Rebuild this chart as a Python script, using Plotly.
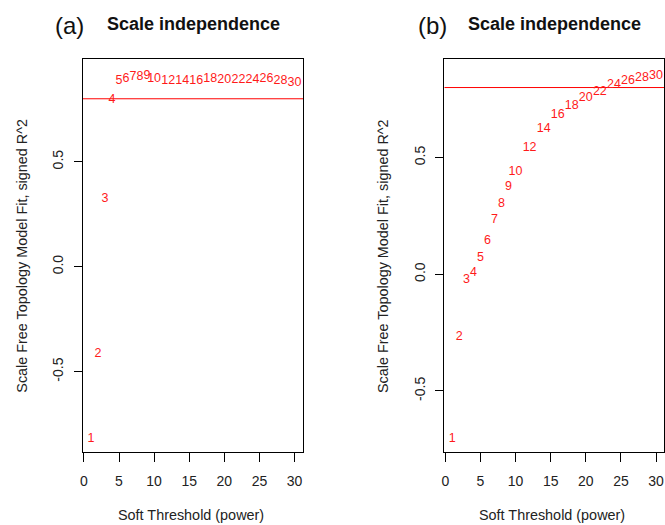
import plotly.graph_objects as go

powers = [1, 2, 3, 4, 5, 6, 7, 8, 9, 10, 12, 14, 16, 18, 20, 22, 24, 26, 28, 30]
fit_a = [-0.820, -0.416, 0.322, 0.797, 0.886, 0.897, 0.902, 0.905, 0.908, 0.894,
         0.886, 0.886, 0.886, 0.897, 0.890, 0.890, 0.890, 0.894, 0.886, 0.875]
fit_b = [-0.706, -0.270, -0.024, 0.004, 0.071, 0.143, 0.233, 0.303, 0.373, 0.437,
         0.543, 0.621, 0.683, 0.721, 0.754, 0.780, 0.811, 0.830, 0.840, 0.851]
cutoff = 0.8
panel_tags = ["(a)", "(b)"]
panel_title = "Scale independence"
x_title = "Soft Threshold (power)"
y_title = "Scale Free Topology Model Fit, signed R^2"
x_ticks = [0, 5, 10, 15, 20, 25, 30]
y_ticks = [-0.5, 0.0, 0.5]

FONT = "Liberation Sans, Arial, sans-serif"
W, H = 665, 525

xr_a = [-0.18, 31.25]
xr_b = [-0.14, 31.13]
yr_a = [-0.884, 0.988]
yr_b = [-0.763, 0.921]

fig = go.Figure()
for xr, fit, xa, ya in [(xr_a, fit_a, "x", "y"), (xr_b, fit_b, "x2", "y2")]:
    fig.add_trace(go.Scatter(x=xr, y=[cutoff, cutoff], mode="lines",
                             line=dict(color="#ff0000", width=1),
                             xaxis=xa, yaxis=ya, hoverinfo="skip", showlegend=False))
    fig.add_trace(go.Scatter(x=powers, y=fit, mode="text", text=[str(p) for p in powers],
                             textfont=dict(color="#ff1a1a", size=12.5, family=FONT),
                             xaxis=xa, yaxis=ya, hoverinfo="skip", showlegend=False,
                             cliponaxis=False))

ydom = [(H - 452.3) / H, (H - 59.3) / H]
xdom_a = [80 / W, 301.7 / W]
xdom_b = [443.3 / W, 664 / W]

def xax(dom, anchor, rng):
    return dict(domain=dom, anchor=anchor, range=rng, tickvals=x_ticks,
                ticktext=[f"{v:g}" for v in x_ticks],
                showgrid=False, zeroline=False, showline=True, mirror=True,
                linecolor="black", linewidth=1, ticks="outside", ticklen=9,
                tickcolor="black", tickwidth=1,
                tickfont=dict(family=FONT, size=14, color="#222"),
                ticklabelstandoff=7)

def yax(anchor, rng):
    return dict(domain=ydom, anchor=anchor, range=rng, tickvals=y_ticks,
                ticktext=[f"{v:.1f}" for v in y_ticks],
                showgrid=False, zeroline=False, showline=True, mirror=True,
                linecolor="black", linewidth=1, ticks="outside", ticklen=8,
                tickcolor="black", tickwidth=1, tickangle=-90,
                tickfont=dict(family=FONT, size=14, color="#222"),
                ticklabelstandoff=5)

fig.update_layout(
    width=W, height=H, margin=dict(l=0, r=0, t=0, b=0),
    paper_bgcolor="white", plot_bgcolor="white",
    xaxis=xax(xdom_a, "y", xr_a),
    yaxis=yax("x", yr_a),
    xaxis2=xax(xdom_b, "y2", xr_b),
    yaxis2=yax("x2", yr_b),
)

annots = []
for tag, tag_x, title_x, ylab_x, dom in [
        (panel_tags[0], 67, 191, 19, xdom_a),
        (panel_tags[1], 431, 553.5, 382, xdom_b)]:
    annots.append(dict(text=tag, x=tag_x / W, y=(H - 25) / H, xref="paper", yref="paper",
                       showarrow=False, xanchor="center", yanchor="middle",
                       font=dict(family=FONT, size=24, color="#111")))
    annots.append(dict(text=f"<b>{panel_title}</b>", x=title_x / W, y=(H - 24) / H,
                       xref="paper", yref="paper", showarrow=False,
                       xanchor="center", yanchor="middle",
                       font=dict(family=FONT, size=18, color="#111")))
    annots.append(dict(text=x_title, x=(dom[0] + dom[1]) / 2 - 0.003, y=(H - 515) / H,
                       xref="paper", yref="paper", showarrow=False,
                       xanchor="center", yanchor="middle",
                       font=dict(family=FONT, size=14.4, color="#222")))
    annots.append(dict(text=y_title, x=ylab_x / W, y=(ydom[0] + ydom[1]) / 2,
                       xref="paper", yref="paper", showarrow=False, textangle=-90,
                       xanchor="center", yanchor="middle",
                       font=dict(family=FONT, size=14.4, color="#222")))
fig.update_layout(annotations=annots)

fig.write_html("out.html")
